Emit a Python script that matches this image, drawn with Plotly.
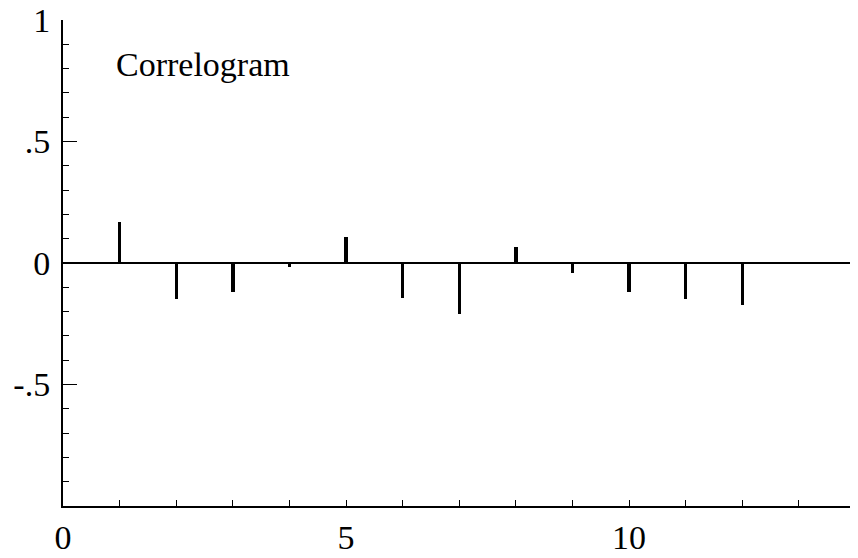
import plotly.graph_objects as go

lags = [1, 2, 3, 4, 5, 6, 7, 8, 9, 10, 11, 12]
acf = [0.169, -0.147, -0.121, -0.015, 0.105, -0.142, -0.209, 0.064, -0.040, -0.118, -0.148, -0.173]

y_tickvals = [-0.5, 0, 0.5, 1]
y_ticktext = ["-.5", "0", ".5", "1"]
x_tickvals = [0, 5, 10]
x_ticktext = ["0", "5", "10"]

font_family = "Liberation Serif"

fig = go.Figure()
fig.add_trace(go.Bar(x=lags, y=acf, width=0.06, marker=dict(color="black", line=dict(width=0)),
                     showlegend=False))

fig.add_annotation(x=0.9, y=0.815, xref="x", yref="y", text="Correlogram", showarrow=False,
                   xanchor="left", yanchor="middle", font=dict(family=font_family, size=34, color="black"))

fig.update_layout(
    width=858, height=558,
    margin=dict(l=55, r=14, t=12, b=60),
    paper_bgcolor="white", plot_bgcolor="white",
    font=dict(family=font_family, size=34, color="black"),
    bargap=0,
)
fig.update_xaxes(
    range=[0, 13.94], showgrid=False, zeroline=False, automargin=False,
    showline=True, linecolor="black", linewidth=2,
    tickvals=x_tickvals, ticktext=x_ticktext, ticks="inside", ticklen=6, tickwidth=1, tickcolor="black",
    minor=dict(dtick=1, tick0=0, ticks="inside", ticklen=6, tickwidth=1, tickcolor="black", showgrid=False),
    tickfont=dict(family=font_family, size=34, color="black"),
    ticklabelstandoff=0, ticklabeloverflow="allow",
)
fig.update_yaxes(
    range=[-1, 1], showgrid=False, zeroline=True, zerolinecolor="black", zerolinewidth=2,
    showline=True, linecolor="black", linewidth=2, automargin=False,
    tickvals=y_tickvals, ticktext=y_ticktext, ticks="inside", ticklen=14, tickwidth=1, tickcolor="black",
    minor=dict(dtick=0.1, tick0=0, ticks="inside", ticklen=6, tickwidth=1, tickcolor="black", showgrid=False),
    tickfont=dict(family=font_family, size=34, color="black"),
    ticklabelstandoff=4, ticklabeloverflow="allow",
)

fig.write_html("out.html")
